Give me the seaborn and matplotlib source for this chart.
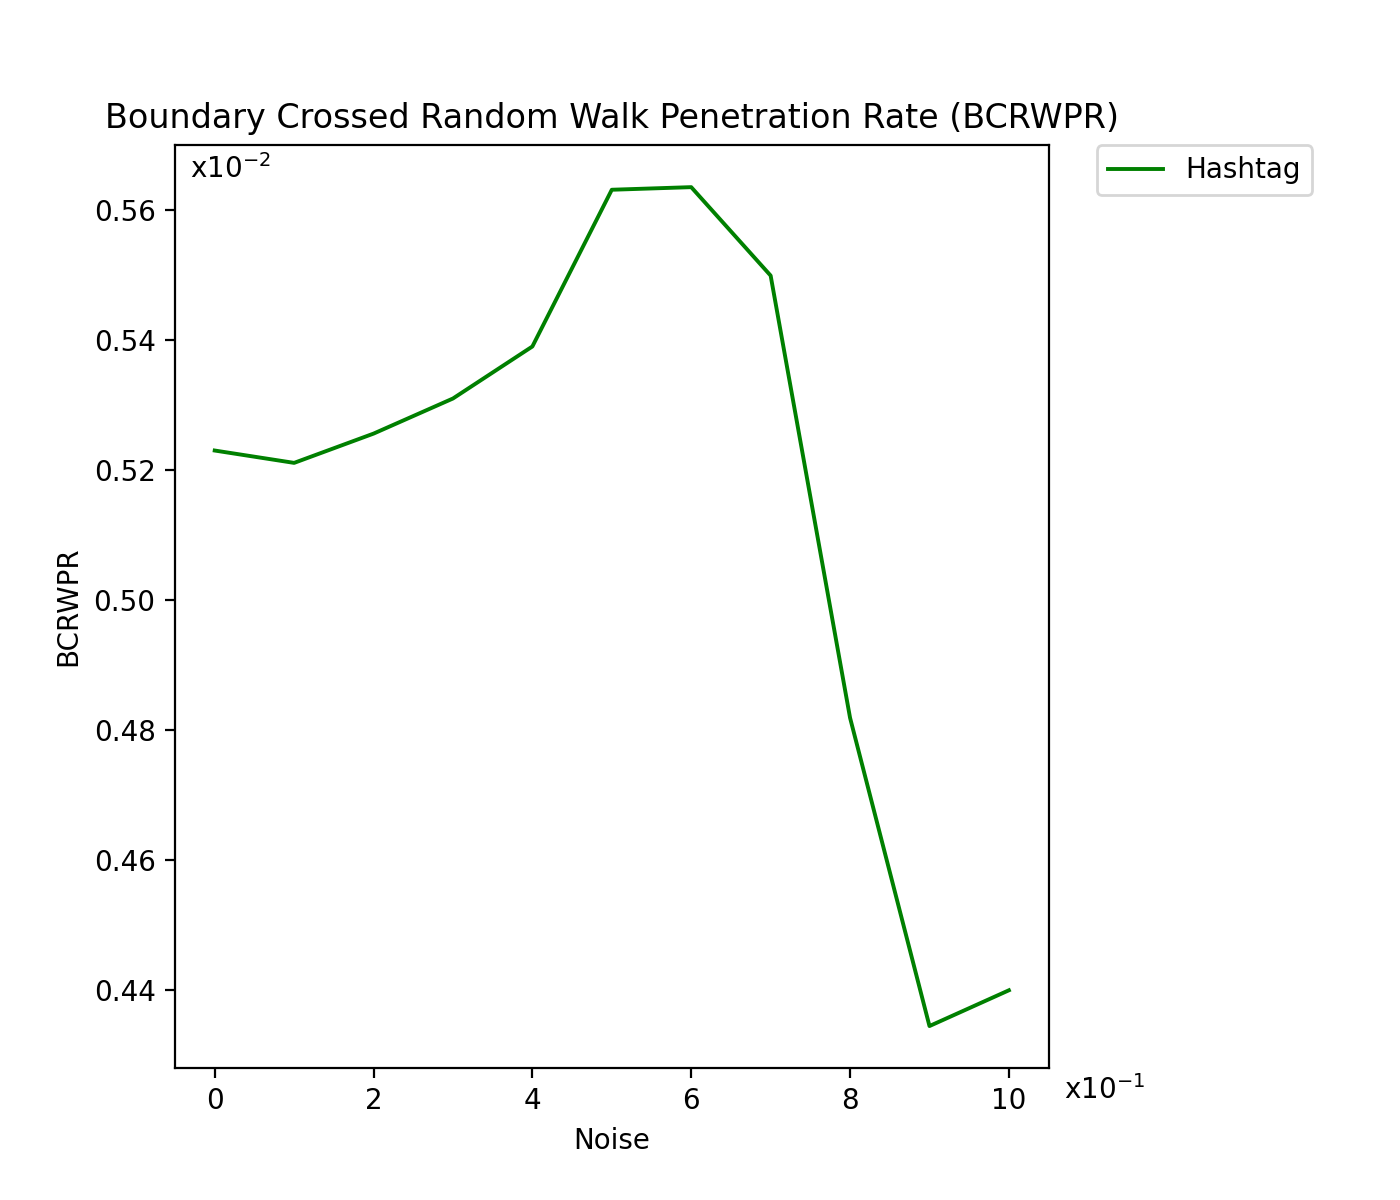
import matplotlib
matplotlib.use("Agg")
import matplotlib.pyplot as plt
from matplotlib.ticker import FuncFormatter, MultipleLocator
import seaborn as sns
import pandas as pd

noise = [0.0, 0.1, 0.2, 0.3, 0.4, 0.5, 0.6, 0.7, 0.8, 0.9, 1.0]
bcrwpr = [0.005230, 0.005211, 0.005256, 0.005310, 0.005390, 0.005631,
          0.005635, 0.005499, 0.004819, 0.004345, 0.004400]
series_name = "Hashtag"

df = pd.DataFrame({"Noise": noise, "BCRWPR": bcrwpr, "series": series_name})

fig = plt.figure(figsize=(7, 6), dpi=200)
ax = fig.add_axes([0.125, 0.11, 0.624, 0.769])
sns.lineplot(data=df, x="Noise", y="BCRWPR", hue="series", palette=["green"],
             ax=ax, linewidth=1.4)

ax.xaxis.set_major_locator(MultipleLocator(0.2))
ax.yaxis.set_major_locator(MultipleLocator(0.0002))
ax.xaxis.set_major_formatter(FuncFormatter(lambda v, p: f"{v*10:.0f}"))
ax.yaxis.set_major_formatter(FuncFormatter(lambda v, p: f"{v*100:.2f}"))

ax.text(0.017, 0.974, r"x$10^{-2}$", transform=ax.transAxes, ha="left", va="center", fontsize=10)
ax.text(1.018, -0.024, r"x$10^{-1}$", transform=ax.transAxes, ha="left", va="center", fontsize=10)

ax.set_title("Boundary Crossed Random Walk Penetration Rate (BCRWPR)", fontsize=12, pad=6.2)
ax.set_xlabel("Noise")
ax.set_ylabel("BCRWPR")
ax.legend(bbox_to_anchor=(1.055, 1), loc="upper left", borderaxespad=0.0)

fig.savefig("out.png", dpi=200)
